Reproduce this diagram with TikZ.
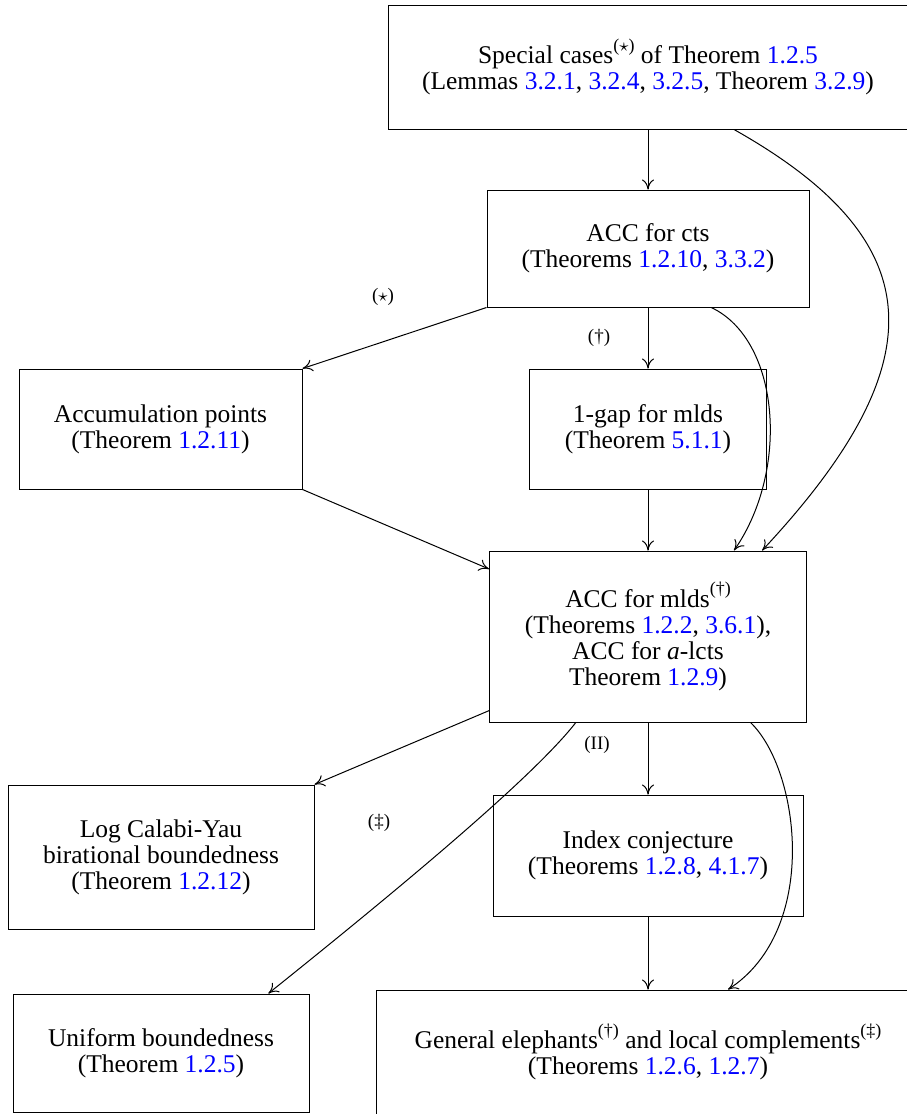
\documentclass[tikz,border=0pt]{standalone}
\usepackage{fontspec}
\setmainfont{Liberation Serif}
\usetikzlibrary{arrows.meta}
\tikzset{
  thm/.style={draw, line width=0.5pt, align=center, inner sep=0pt, font=\fontsize{12.75}{13}\selectfont},
  imp/.style={-{To[length=5pt,width=6pt]}, line width=0.5pt},
  tag/.style={font=\fontsize{9.5}{10}\selectfont}
}
\newcommand{\thmref}[1]{\textcolor{blue}{#1}}
\newcommand{\supmark}[1]{\raisebox{0.5em}{\fontsize{9}{9}\selectfont(#1)}}

\begin{document}
\begin{tikzpicture}[x=0.5pt,y=-0.5pt]
  \useasboundingbox (0,0) rectangle (906,1114);
  \node[thm, minimum width=260pt, minimum height=62pt] (spec) at (648,67) {Special cases\supmark{$\star$} of Theorem \thmref{1.2.5}\\(Lemmas \thmref{3.2.1}, \thmref{3.2.4}, \thmref{3.2.5}, Theorem \thmref{3.2.9})};
  \node[thm, minimum width=161pt, minimum height=58.5pt] (cts) at (648,248.5) {ACC for cts\\(Theorems \thmref{1.2.10}, \thmref{3.3.2})};
  \node[thm, minimum width=141.5pt, minimum height=60pt] (accum) at (160.5,429) {Accumulation points\\(Theorem \thmref{1.2.11})};
  \node[thm, minimum width=118.5pt, minimum height=60pt] (gap) at (648,429) {1-gap for mlds\\(Theorem \thmref{5.1.1})};
  \node[thm, minimum width=158.5pt, minimum height=85.5pt] (mld) at (648,636.5) {ACC for mlds\supmark{\textdagger}\\(Theorems \thmref{1.2.2}, \thmref{3.6.1}),\\ACC for \textit{a}-lcts\\Theorem \thmref{1.2.9})};
  \node[thm, minimum width=153pt, minimum height=72pt] (lcy) at (161,857) {Log Calabi-Yau\\birational boundedness\\(Theorem \thmref{1.2.12})};
  \node[thm, minimum width=155pt, minimum height=60.5pt] (index) at (648,855.5) {Index conjecture\\(Theorems \thmref{1.2.8}, \thmref{4.1.7})};
  \node[thm, minimum width=148pt, minimum height=59pt] (unif) at (161,1053) {Uniform boundedness\\(Theorem \thmref{1.2.5})};
  \node[thm, minimum width=272pt, minimum height=62pt] (eleph) at (648,1052) {General elephants\supmark{\textdagger} and local complements\supmark{\textdaggerdbl}\\(Theorems \thmref{1.2.6}, \thmref{1.2.7})};

  \node[tag] (star) at (383,297) {($\star$)};
  \node[tag] (dag) at (599,338) {(\textdagger)};
  \node[tag] (two) at (597,745) {(II)};
  \node[tag] (ddag) at (379,823) {(\textdaggerdbl)};

  \draw[imp] (spec) -- (cts);
  \draw[imp] (spec.-36) .. controls (930,240) and (940,360) .. (mld.37);
  \draw[imp] (cts.south west) -- (accum.north east);
  \draw[imp] (cts) -- (gap);
  \draw[imp] (cts.-43) .. controls (780,340) and (790,470) .. (mld.45);
  \draw[imp] (accum.south east) -- (mld.157);
  \draw[imp] (gap) -- (mld);
  \draw[imp] (mld.205) -- (lcy.north east);
  \draw[imp] (mld.-130) .. controls (535,775) and (410,880) .. (unif.29);
  \draw[imp] (mld) -- (index);
  \draw[imp] (mld.-40) .. controls (800,770) and (820,930) .. (eleph.38);
  \draw[imp] (index) -- (eleph);
\end{tikzpicture}
\end{document}
